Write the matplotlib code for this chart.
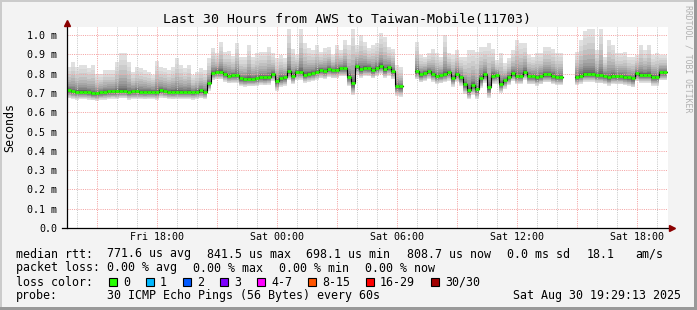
import numpy as np
import matplotlib
matplotlib.use("Agg")
import matplotlib.pyplot as plt
from matplotlib.patches import Rectangle

W, H = 697, 310
nan = np.nan

# time axis in hours since Fri 00:00, one RRD step = 12 minutes
t_start = 13.5
t_step = 0.2
t_end = 43.55

# median rtt per step (ms)
median = [
    0.716, 0.710, 0.707, 0.707, 0.707, 0.705, 0.700, 0.698, 0.703, 0.705,
    0.708, 0.708, 0.708, 0.712, 0.712, 0.705, 0.708, 0.708, 0.707, 0.707,
    0.707, 0.707, 0.705, 0.716, 0.712, 0.707, 0.707, 0.707, 0.707, 0.707,
    0.707, 0.705, 0.707, 0.714, 0.707, 0.750, 0.805, 0.810, 0.810, 0.800,
    0.790, 0.793, 0.793, 0.775, 0.772, 0.774, 0.774, 0.776, 0.782, 0.780,
    0.783, 0.800, 0.762, 0.776, 0.780, 0.812, 0.790, 0.810, 0.810, 0.795,
    0.800, 0.805, 0.810, 0.820, 0.816, 0.825, 0.820, 0.820, 0.829, 0.829,
    0.784, 0.750, 0.838, 0.822, 0.831, 0.830, 0.819, 0.830, 0.841, 0.822,
    0.833, 0.816, 0.738, 0.734, nan, nan, nan, 0.812, 0.797, 0.805,
    0.814, 0.800, 0.790, 0.793, 0.800, 0.807, 0.778, 0.800, 0.781, 0.745,
    0.716, 0.741, 0.719, 0.776, 0.797, 0.728, 0.790, 0.793, 0.748, 0.767,
    0.784, 0.802, 0.790, 0.790, 0.810, 0.788, 0.788, 0.781, 0.788, 0.797,
    0.797, 0.790, 0.784, 0.784, nan, nan, nan, 0.784, 0.790, 0.800,
    0.800, 0.800, 0.793, 0.793, 0.790, 0.781, 0.790, 0.788, 0.788, 0.784,
    0.781, 0.776, 0.802, 0.795, 0.795, 0.795, 0.784, 0.784, 0.807, 0.807,
]

# fastest ping per step (bottom of the smoke)
smoke_lo = [
    0.672, 0.668, 0.665, 0.668, 0.668, 0.665, 0.662, 0.660, 0.665, 0.665,
    0.668, 0.670, 0.668, 0.672, 0.672, 0.665, 0.668, 0.668, 0.668, 0.666,
    0.668, 0.668, 0.665, 0.675, 0.672, 0.668, 0.666, 0.668, 0.668, 0.668,
    0.668, 0.665, 0.668, 0.672, 0.668, 0.712, 0.765, 0.770, 0.770, 0.758,
    0.750, 0.752, 0.752, 0.735, 0.732, 0.734, 0.734, 0.736, 0.742, 0.740,
    0.743, 0.760, 0.712, 0.732, 0.738, 0.768, 0.745, 0.765, 0.768, 0.752,
    0.758, 0.762, 0.768, 0.776, 0.772, 0.782, 0.776, 0.776, 0.785, 0.785,
    0.735, 0.688, 0.795, 0.778, 0.788, 0.786, 0.775, 0.786, 0.798, 0.778,
    0.790, 0.770, 0.685, 0.680, nan, nan, nan, 0.770, 0.755, 0.762,
    0.772, 0.758, 0.746, 0.750, 0.756, 0.764, 0.732, 0.756, 0.738, 0.695,
    0.668, 0.690, 0.670, 0.725, 0.752, 0.676, 0.745, 0.748, 0.700, 0.722,
    0.740, 0.760, 0.746, 0.746, 0.768, 0.745, 0.745, 0.738, 0.745, 0.755,
    0.755, 0.746, 0.740, 0.740, nan, nan, nan, 0.740, 0.748, 0.758,
    0.758, 0.758, 0.750, 0.750, 0.746, 0.738, 0.746, 0.745, 0.745, 0.740,
    0.736, 0.728, 0.760, 0.752, 0.752, 0.752, 0.738, 0.738, 0.765, 0.765,
]

# slowest ping per step (top of the smoke)
smoke_hi = [
    0.836, 0.862, 0.836, 0.845, 0.845, 0.831, 0.845, 0.800, 0.800, 0.819,
    0.819, 0.819, 0.862, 0.905, 0.905, 0.862, 0.810, 0.836, 0.828, 0.819,
    0.810, 0.793, 0.866, 0.836, 0.828, 0.819, 0.835, 0.879, 0.845, 0.828,
    0.845, 0.793, 0.810, 0.828, 0.819, 0.879, 0.931, 0.905, 0.966, 0.914,
    0.917, 0.893, 0.957, 0.888, 0.888, 0.948, 0.888, 0.905, 0.914, 0.914,
    0.940, 0.905, 0.879, 0.897, 0.879, 1.030, 0.930, 0.897, 1.030, 0.957,
    0.931, 0.922, 0.948, 0.914, 0.931, 0.940, 0.897, 0.948, 0.922, 0.974,
    0.948, 1.030, 0.948, 1.000, 0.965, 0.934, 0.948, 0.957, 1.010, 0.990,
    0.940, 0.930, 0.845, 0.836, nan, nan, nan, 0.966, 0.897, 0.888,
    0.905, 0.930, 0.905, 0.888, 1.000, 0.905, 0.897, 0.922, 0.888, 0.888,
    0.922, 0.922, 0.914, 0.940, 0.940, 0.957, 0.930, 0.870, 0.905, 0.853,
    0.879, 0.922, 0.974, 0.957, 0.957, 0.897, 0.888, 0.905, 0.905, 0.940,
    0.940, 0.930, 0.905, 0.905, nan, nan, nan, 0.914, 0.974, 1.020,
    1.030, 1.030, 0.922, 1.030, 0.888, 0.974, 0.948, 0.905, 0.905, 0.914,
    0.888, 0.888, 0.897, 0.948, 0.922, 0.948, 0.897, 0.905, 0.897, 0.897,
]

x_ticks = [18, 24, 30, 36, 42]
x_labels = ['Fri 18:00', 'Sat 00:00', 'Sat 06:00', 'Sat 12:00', 'Sat 18:00']
y_ticks = [0.0, 0.1, 0.2, 0.3, 0.4, 0.5, 0.6, 0.7, 0.8, 0.9, 1.0]
y_labels = ['0.0', '0.1 m', '0.2 m', '0.3 m', '0.4 m', '0.5 m',
            '0.6 m', '0.7 m', '0.8 m', '0.9 m', '1.0 m']

rtt_stats = [('771.6 us avg', 107), ('841.5 us max', 207), ('698.1 us min', 306),
             ('808.7 us now', 407), ('0.0 ms sd', 507), ('18.1', 587), ('am/s', 635)]
loss_stats = [('0.00 % avg', 107), ('0.00 % max', 193), ('0.00 % min', 279),
              ('0.00 % now', 365)]
loss_labels = ['0', '1', '2', '3', '4-7', '8-15', '16-29', '30/30']
loss_colors = ['#26ff00', '#00b8ff', '#0059ff', '#7e00ff', '#ff00ff',
               '#ff5500', '#ff0000', '#a10000']

title = 'Last 30 Hours from AWS to Taiwan-Mobile(11703)'
probe_text = '30 ICMP Echo Pings (56 Bytes) every 60s'
stamp = 'Sat Aug 30 19:29:13 2025'

mono = 'DejaVu Sans Mono'
bg = '#f3f3f3'


def fx(x):
    return x / W


def fy(y):
    return 1 - y / H


fig = plt.figure(figsize=(W / 100, H / 100), dpi=100, facecolor=bg)
ax = fig.add_axes([fx(67), fy(228), 601 / W, 201 / H])
ax.set_facecolor('white')
ax.set_xlim(t_start, t_end)
ax.set_ylim(0, 201 / 193)

med = np.array(median, float)
lo = np.array(smoke_lo, float)
hi = np.array(smoke_hi, float)
edges = t_start + t_step * np.arange(len(med) + 1)
xs = np.column_stack([edges[:-1], edges[1:]]).ravel()


def dup(a):
    return np.repeat(a, 2)


# smoke: light outer bands, darker towards the median
n = 14
for j in range(n):
    f = (n - j) / n
    top = med + (hi - med) * f ** 2.5
    bot = med - (med - lo) * f ** 1.2
    g = 0.88 - 0.64 * (j / (n - 1)) ** 1.1
    ax.fill_between(xs, dup(bot), dup(top), color=(g, g, g), lw=0, zorder=1)

# grid on top of the smoke
dots = dict(lw=0.72, ls=(0, (1, 1.2)), zorder=2)
for h in range(14, 44):
    ax.axvline(h, color='#f4a3a3' if h % 3 == 0 else '#c8c8c8', **dots)
for v in y_ticks[1:]:
    ax.axhline(v, color='#f4a3a3', **dots)

# median line
ax.plot(xs, dup(med), color='black', lw=0.8, zorder=3)
ok = ~np.isnan(med)
ax.hlines(med[ok], edges[:-1][ok], edges[1:][ok], colors=loss_colors[0],
          lw=2.0, zorder=4, capstyle='butt')

for s in ax.spines.values():
    s.set_visible(False)
ax.tick_params(length=0, labelsize=7.2, pad=3)
ax.set_xticks(x_ticks)
ax.set_xticklabels(x_labels, family=mono)
ax.set_yticks(y_ticks)
ax.set_yticklabels(y_labels, family=mono)
ax.tick_params(axis='y', pad=7)

# axes with arrow heads
ax.plot([0, 0], [0, 1.01], transform=ax.transAxes, color='black', lw=0.9,
        clip_on=False, zorder=5)
ax.plot([-5 / 601, 1.003], [0, 0], transform=ax.transAxes, color='black',
        lw=0.9, clip_on=False, zorder=5)
ax.plot([0], [1.018], transform=ax.transAxes, marker='^', ms=4.2,
        color='#8b0000', clip_on=False, zorder=6)
ax.plot([1.007], [0], transform=ax.transAxes, marker='>', ms=4.2,
        color='#8b0000', clip_on=False, zorder=6)

fig.text(fx(347), fy(19), title, family=mono, fontsize=9.5,
         ha='center', va='center')
fig.text(fx(10), fy(127), 'Seconds', family=mono, fontsize=8.4,
         rotation=90, ha='center', va='center')
fig.text(fx(688), fy(59), 'RRDTOOL / TOBI OETIKER', family=mono,
         fontsize=5.9, color='#b0b0b0', rotation=270, ha='center', va='center')

# legend rows
fs = 8.4
rows = [254, 268, 282, 296]
fig.text(fx(16), fy(rows[0]), 'median rtt:', family=mono, fontsize=fs, va='center')
for txt, x in rtt_stats:
    fig.text(fx(x), fy(rows[0]), txt, family=mono, fontsize=fs, va='center')
fig.text(fx(16), fy(rows[1]), 'packet loss:', family=mono, fontsize=fs, va='center')
for txt, x in loss_stats:
    fig.text(fx(x), fy(rows[1]), txt, family=mono, fontsize=fs, va='center')
fig.text(fx(16), fy(rows[2]), 'loss color:', family=mono, fontsize=fs, va='center')
bx = 109
for lab, col in zip(loss_labels, loss_colors):
    fig.add_artist(Rectangle((fx(bx), fy(rows[2] + 4)), 8 / W, 8 / H,
                             transform=fig.transFigure, facecolor=col,
                             edgecolor='black', lw=0.8))
    fig.text(fx(bx + 14), fy(rows[2]), lab, family=mono, fontsize=fs, va='center')
    bx = bx + 14 + 7 * len(lab) + 16
fig.text(fx(16), fy(rows[3]), 'probe:', family=mono, fontsize=fs, va='center')
fig.text(fx(107), fy(rows[3]), probe_text, family=mono, fontsize=fs, va='center')
fig.text(fx(513), fy(rows[3]), stamp, family=mono, fontsize=fs, va='center')

# frame shading
fig.add_artist(Rectangle((0, 1 - 2 / H), 1, 2 / H, transform=fig.transFigure,
                         facecolor='#cbcbcb', lw=0))
fig.add_artist(Rectangle((0, 0), 2 / W, 1, transform=fig.transFigure,
                         facecolor='#cbcbcb', lw=0))
fig.add_artist(Rectangle((0, 0), 1, 3 / H, transform=fig.transFigure,
                         facecolor='#999999', lw=0))
fig.add_artist(Rectangle((1 - 3 / W, 0), 3 / W, 1, transform=fig.transFigure,
                         facecolor='#999999', lw=0))

fig.savefig('out.png', dpi=100, facecolor=bg)
